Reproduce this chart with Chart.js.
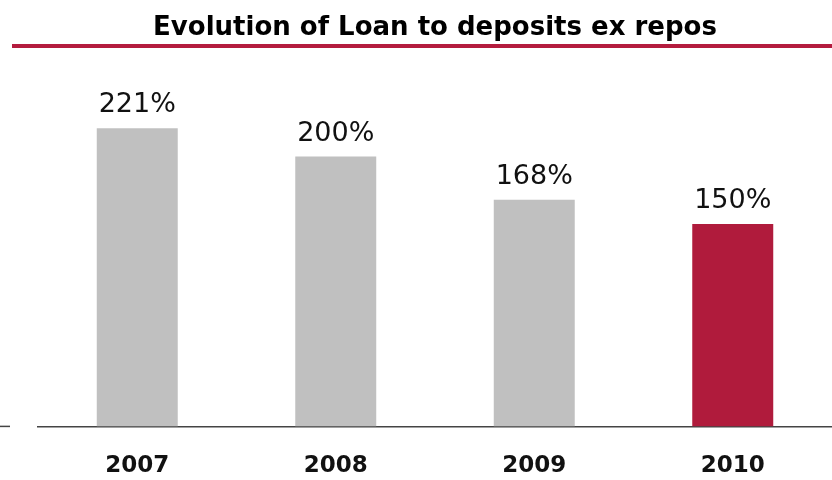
<!DOCTYPE html>
<html>
<head>
<meta charset="utf-8">
<script src="https://cdn.jsdelivr.net/npm/chart.js@4.4.0/dist/chart.umd.min.js"></script>
<style>
  html, body { margin: 0; padding: 0; background: #fff; }
  #wrap { width: 832px; height: 480px; }
</style>
</head>
<body>
<div id="wrap"><canvas id="ltdChart" width="832" height="480"></canvas></div>
<script>
const years = ["2007", "2008", "2009", "2010"];
const ratios = [221, 200, 168, 150];
const barColors = ["#c0c0c0", "#c0c0c0", "#c0c0c0", "#b01b3c"];

const RED = "#b41c3e";
const FONT = "'DejaVu Sans', Verdana, sans-serif";

// red rule under the title plus the small stub left of the baseline
const decorations = {
  id: "decorations",
  afterDraw(chart) {
    const c = chart.ctx;
    c.save();
    c.fillStyle = RED;
    c.fillRect(12, 44, chart.width - 12, 4);
    c.strokeStyle = "#444";
    c.lineWidth = 1.5;
    c.beginPath();
    c.moveTo(0, chart.chartArea.bottom);
    c.lineTo(10, chart.chartArea.bottom);
    c.stroke();
    c.restore();
  },
};

// percentage labels above each bar
const valueLabels = {
  id: "valueLabels",
  afterDatasetsDraw(chart) {
    const c = chart.ctx;
    const meta = chart.getDatasetMeta(0);
    c.save();
    c.font = "27px " + FONT;
    c.fillStyle = "#111";
    c.textAlign = "center";
    c.textBaseline = "middle";
    meta.data.forEach((bar, i) => {
      c.fillText(ratios[i] + "%", bar.x, bar.y - 23);
    });
    c.restore();
  },
};

new Chart(document.getElementById("ltdChart"), {
  type: "bar",
  data: {
    labels: years,
    datasets: [
      {
        data: ratios,
        backgroundColor: barColors,
        borderWidth: 0,
        categoryPercentage: 1,
        barPercentage: 0.408,
      },
    ],
  },
  options: {
    responsive: false,
    animation: false,
    layout: { padding: { left: 38, right: 0, top: 0, bottom: -26 } },
    plugins: {
      legend: { display: false },
      tooltip: { enabled: false },
      title: {
        display: true,
        text: "Evolution of Loan to deposits ex repos",
        color: "#000",
        font: { family: FONT, size: 26, weight: "bold" },
        padding: { top: 13, bottom: 18 },
      },
    },
    scales: {
      x: {
        grid: { display: false, drawTicks: false },
        border: { display: true, color: "#444", width: 1.5 },
        ticks: {
          color: "#111",
          padding: 26,
          font: { family: FONT, size: 23, weight: "bold" },
        },
      },
      y: {
        display: false,
        min: 0,
        max: 270,
      },
    },
  },
  plugins: [decorations, valueLabels],
});
</script>
</body>
</html>
